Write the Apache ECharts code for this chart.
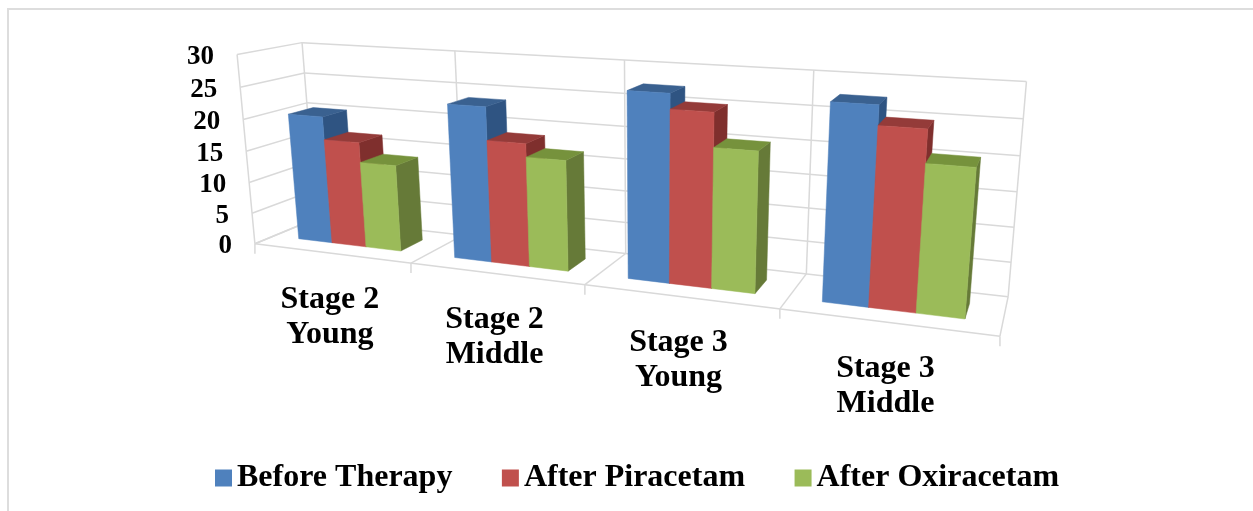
<!DOCTYPE html>
<html><head><meta charset="utf-8">
<style>html,body{margin:0;padding:0;background:#fff}#c{width:1253px;height:511px}</style>
<script src="https://cdn.jsdelivr.net/npm/echarts@6/dist/echarts.min.js"></script>
</head><body><div id="c"></div>
<script>
const categories = ['Stage 2\nYoung','Stage 2\nMiddle','Stage 3\nYoung','Stage 3\nMiddle'];
const beforeTherapy = [20.3, 23.7, 27.4, 27.6];
const afterPiracetam = [16.7, 18.7, 25.2, 24.9];
const afterOxiracetam = [13.6, 16.7, 20.3, 20.4];
const valueTicks = [0,5,10,15,20,25,30];
const seriesNames = ['Before Therapy','After Piracetam','After Oxiracetam'];

// perspective calibration of the 3D box: u (across), v (up), d (depth), screen x, y
const CAL = [
 [0,1,1,302,42.7],[0,0,1,316,219],[1,1,1,1026.7,81.7],[1,0,1,1008,296.7],
 [.25,1,1,455,50],[.5,1,1,625,60],[.75,1,1,813,70],
 [0,0,0,255,243.3],[1,0,0,1000,336.7],[0,1,0,237,55],
 [.25,0,0,410.7,263],[.5,0,0,585,285],[.75,0,0,780,308]
];
function solve(A,b){const n=b.length;const M=A.map((r,i)=>r.concat(b[i]));
 for(let i=0;i<n;i++){let p=i;for(let k=i+1;k<n;k++)if(Math.abs(M[k][i])>Math.abs(M[p][i]))p=k;
  [M[i],M[p]]=[M[p],M[i]];
  for(let k=0;k<n;k++){if(k===i)continue;const f=M[k][i]/M[i][i];for(let j=i;j<=n;j++)M[k][j]-=f*M[i][j];}}
 return M.map((r,i)=>r[n]/r[i]);}
function fit(){const rows=[],rhs=[];
 CAL.forEach(([u,v,d,x,y])=>{
  rows.push([u,v,d,1,0,0,0,0,-x*u,-x*v,-x*d]);rhs.push(x);
  rows.push([0,0,0,0,u,v,d,1,-y*u,-y*v,-y*d]);rhs.push(y);});
 const N=11,A=[],b=[];
 for(let i=0;i<N;i++){A.push([]);let s=0;
  for(let j=0;j<N;j++){let t=0;rows.forEach(r=>t+=r[i]*r[j]);A[i].push(t);}
  rows.forEach((r,k)=>s+=r[i]*rhs[k]);b.push(s);}
 return solve(A,b);}
const P=fit();
function proj(u,v,d){const w=P[8]*u+P[9]*v+P[10]*d+1;
 return [(P[0]*u+P[1]*v+P[2]*d+P[3])/w,(P[4]*u+P[5]*v+P[6]*d+P[7])/w];}

const BAR_FRAC=0.222, D0=0.30, D1=0.70;
const FACE=['#4F81BD','#C0504D','#9BBB59'];
const TOP=['#3A6190','#943B39','#76923C'];
const SIDE=['#2F5482','#7F2F2D','#667A38'];
const LINE={stroke:'#D9D9D9',lineWidth:1.5};
const FONT='"Liberation Serif","Times New Roman",serif';

function norm(api,params,val,idx){const cs=params.coordSys;const pt=api.coord([idx,val]);
 return {u:(pt[0]-cs.x)/cs.width,v:(cs.y+cs.height-pt[1])/cs.height};}
function seg(a,b){return {type:'line',shape:{x1:a[0],y1:a[1],x2:b[0],y2:b[1]},style:LINE,silent:true};}
function poly(pts,fill){return {type:'polygon',shape:{points:pts},style:{fill:fill,stroke:fill,lineWidth:0.5},silent:true};}

function renderWalls(params,api){
 const ch=[];
 valueTicks.forEach(t=>{const {v}=norm(api,params,t,0);
  ch.push(seg(proj(0,v,1),proj(1,v,1)));
  ch.push(seg(proj(0,v,0),proj(0,v,1)));
  const p=proj(0,v,0);
  ch.push({type:'text',style:{x:p[0]-23,y:p[1]+2.5,text:String(t),fill:'#000',font:'bold 27px '+FONT,align:'right',verticalAlign:'middle'},silent:true});
 });
 const us=[0,.25,.5,.75,1];
 us.forEach(u=>{
  ch.push(seg(proj(u,0,1),proj(u,1,1)));
  ch.push(seg(proj(u,0,0),proj(u,0,1)));
  const f=proj(u,0,0);ch.push(seg(f,[f[0],f[1]+10]));
 });
 ch.push(seg(proj(0,0,0),proj(1,0,0)));
 ch.push(seg(proj(0,0,0),proj(0,1,0)));
 categories.forEach((c,i)=>{const cs=params.coordSys;const u=(api.coord([i,0])[0]-cs.x)/cs.width;
  const p=proj(u,0,0);
  ch.push({type:'text',style:{x:p[0]-1,y:p[1]+64,text:c,fill:'#000',font:'bold 32px '+FONT,align:'center',verticalAlign:'middle',lineHeight:35},silent:true});
 });
 return {type:'group',children:ch};
}
function barRenderer(si){return function(params,api){
 const cat=api.value(0),val=api.value(1);const cs=params.coordSys;
 const {u:uc,v}=norm(api,params,val,cat);
 const band=api.size([1,0])[0]/cs.width;
 const w=band*BAR_FRAC;
 const u0=uc+(si-1.5)*w,u1=u0+w;
 const a=proj(u0,0,D0),b=proj(u1,0,D0),c=proj(u1,v,D0),e=proj(u0,v,D0);
 const f=proj(u1,0,D1),g=proj(u1,v,D1),h=proj(u0,v,D1);
 return {type:'group',children:[poly([b,f,g,c],SIDE[si]),poly([e,c,g,h],TOP[si]),poly([a,b,c,e],FACE[si])]};
};}
const barData=[beforeTherapy,afterPiracetam,afterOxiracetam];
const chart=echarts.init(document.getElementById('c'),null,{renderer:'canvas'});
chart.setOption({
 animation:false,backgroundColor:'#fff',color:FACE,
 graphic:[{type:'polyline',shape:{points:[[8,511],[8,9],[1253,9]]},style:{stroke:'#DDDDDD',lineWidth:2,fill:null},silent:true}],
 grid:{left:0,right:0,top:0,bottom:0},
 xAxis:{type:'category',data:categories,show:false},
 yAxis:{type:'value',min:0,max:30,interval:5,show:false},
 legend:{left:210,top:457,itemWidth:17,itemHeight:17,itemGap:49.5,icon:'rect',data:seriesNames,
  textStyle:{fontFamily:FONT,fontWeight:'bold',fontSize:32,color:'#000'}},
 series:[{type:'custom',name:'walls',silent:true,clip:false,z:1,data:[[0,0]],encode:{x:0,y:1},renderItem:renderWalls}]
 .concat(seriesNames.map((n,si)=>({type:'custom',name:n,silent:true,clip:false,z:2,itemStyle:{color:FACE[si]},
   encode:{x:0,y:1},data:barData[si].map((v,i)=>[i,v]),renderItem:barRenderer(si)})))
});
</script></body></html>
